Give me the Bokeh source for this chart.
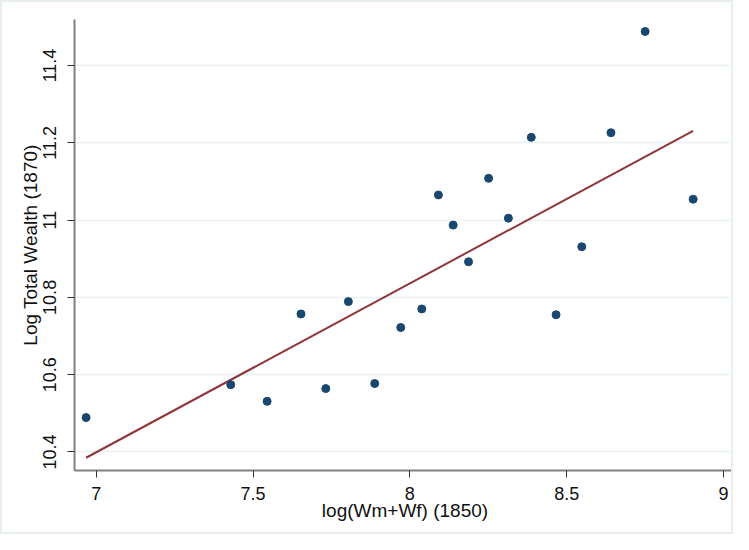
from bokeh.plotting import figure
from bokeh.models import Range1d, FixedTicker
from bokeh.embed import file_html
from bokeh.resources import INLINE

# Data
wealth_1850 = [6.968, 7.429, 7.545, 7.653, 7.732, 7.804, 7.888, 7.971, 8.038, 8.091,
               8.138, 8.187, 8.251, 8.314, 8.387, 8.466, 8.548, 8.641, 8.750, 8.903]
wealth_1870 = [10.489, 10.574, 10.531, 10.757, 10.564, 10.789, 10.577, 10.722, 10.770, 11.065,
               10.987, 10.892, 11.108, 11.005, 11.214, 10.755, 10.931, 11.226, 11.488, 11.054]
# fitted line values read at the ends of the data range
fit_x = [min(wealth_1850), max(wealth_1850)]
fit_y = [10.385, 11.231]

x_ticks = [7, 7.5, 8, 8.5, 9]
x_tick_labels = ["7", "7.5", "8", "8.5", "9"]
y_ticks = [10.4, 10.6, 10.8, 11.0, 11.2, 11.4]
y_tick_labels = ["10.4", "10.6", "10.8", "11", "11.2", "11.4"]

FONT = "Liberation Sans"

p = figure(width=733, height=534, output_backend="svg", toolbar_location=None,
           x_range=Range1d(6.931, 9.038), y_range=Range1d(10.352, 11.519),
           min_border_left=72, min_border_top=17, min_border_right=0, min_border_bottom=66)
p.styles = {"border": "2px solid #e9eff1"}
p.outline_line_color = None
p.background_fill_color = "white"
p.border_fill_color = "white"

p.xgrid.grid_line_color = None
p.ygrid.grid_line_color = "#eaf2f3"
p.ygrid.grid_line_width = 1.5

p.line(fit_x, fit_y, line_color="#90353b", line_width=2)
p.scatter(wealth_1850, wealth_1870, size=8, fill_color="#1a476f", line_color="#1a476f")

p.xaxis.ticker = FixedTicker(ticks=x_ticks)
p.xaxis.major_label_overrides = {t: l for t, l in zip(x_ticks, x_tick_labels)}
p.yaxis.ticker = FixedTicker(ticks=y_ticks)
p.yaxis.major_label_overrides = {t: l for t, l in zip(y_ticks, y_tick_labels)}
p.yaxis.major_label_orientation = "vertical"

p.xaxis.axis_label = "log(Wm+Wf) (1850)"
p.yaxis.axis_label = "Log Total Wealth (1870)"

for ax in (p.xaxis, p.yaxis):
    ax.axis_line_color = "#808080"
    ax.axis_line_width = 2
    ax.major_tick_line_color = "#333333"
    ax.major_tick_line_width = 1
    ax.major_tick_out = 7
    ax.major_tick_in = 0
    ax.minor_tick_line_color = None
    ax.major_label_text_font = FONT
    ax.major_label_text_font_size = "18px"
    ax.major_label_text_color = "#111111"
    ax.axis_label_text_font = FONT
    ax.axis_label_text_font_size = "19px"
    ax.axis_label_text_font_style = "normal"
    ax.axis_label_text_color = "#111111"

p.xaxis.major_label_standoff = 9
p.xaxis.axis_label_standoff = -3
p.yaxis.major_label_standoff = 11
p.yaxis.axis_label_standoff = 0

open("out.html", "w").write(file_html(p, INLINE))
